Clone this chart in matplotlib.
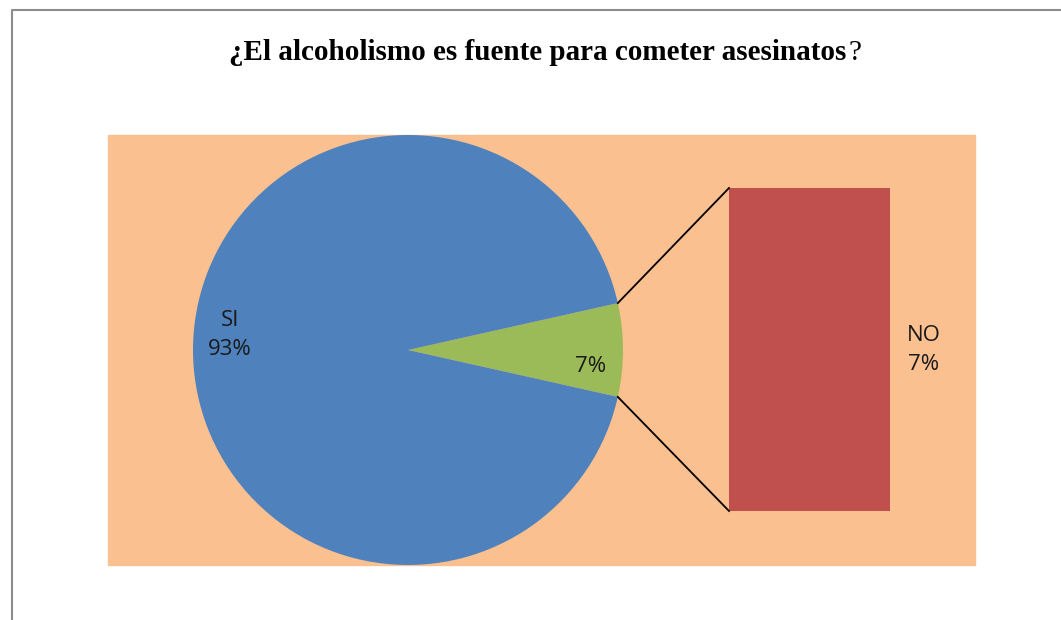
import numpy as np
import matplotlib.pyplot as plt

# data
labels = ["SI", "NO"]
values = [93, 7]
bar_labels = ["NO"]
bar_values = [7]

W, H = 1061, 620
fig = plt.figure(figsize=(W / 100, H / 100), dpi=100)
ax = fig.add_axes([0, 0, 1, 1])
ax.set_xlim(0, W)
ax.set_ylim(0, H)
ax.axis("off")

# chart frame (only top and left edges visible)
ax.plot([12, 12, W], [0, H - 10, H - 10], color="#8c8c8c", lw=1.5, solid_capstyle="butt")

# plot area
ax.add_patch(plt.Rectangle((108, H - 565), 975 - 108, 565 - 135, color="#FAC090", zorder=0))

# pie, small slice centred on the right
total = sum(values)
small_ang = 360 * values[1] / total
cx, cy, r = 408, H - 350, 215
wedges, _ = ax.pie([values[1], values[0]], colors=["#9BBB59", "#4F81BD"],
                   startangle=-small_ang / 2, center=(cx, cy), radius=r,
                   frame=True)
ax.set_xlim(0, W)
ax.set_ylim(0, H)
ax.set_aspect("equal")
ax.axis("off")

# secondary bar
bx0, bx1 = 729, 890
btop, bbot = H - 188, H - 511
bar_h = (btop - bbot) * bar_values[0] / sum(bar_values)
ax.bar((bx0 + bx1) / 2, bar_h, width=bx1 - bx0, bottom=bbot, color="#C0504D", zorder=2)

# connector lines
a = np.deg2rad(small_ang / 2)
ax.plot([cx + r * np.cos(a), bx0], [cy + r * np.sin(a), btop], color="black", lw=1.3)
ax.plot([cx + r * np.cos(a), bx0], [cy - r * np.sin(a), bbot], color="black", lw=1.3)

lab_font = dict(family=["Open Sans", "DejaVu Sans"], fontsize=16, ha="center", va="center",
                color="#1a1a1a", linespacing=1.45)
ax.text(230, H - 335, "%s\n%d%%" % (labels[0], values[0]), **lab_font)
ax.text(591, H - 366, "%d%%" % values[1], **lab_font)
ax.text(924, H - 350, "%s\n%d%%" % (bar_labels[0], bar_values[0]), **lab_font)

ax.text(846, H - 53, "¿El alcoholismo es fuente para cometer asesinatos",
        family="Liberation Serif", fontweight="bold", fontsize=21, ha="right", va="center")
ax.text(848, H - 53, "?", family="Liberation Serif", fontsize=21, ha="left", va="center")

fig.savefig("out.png", dpi=100)
